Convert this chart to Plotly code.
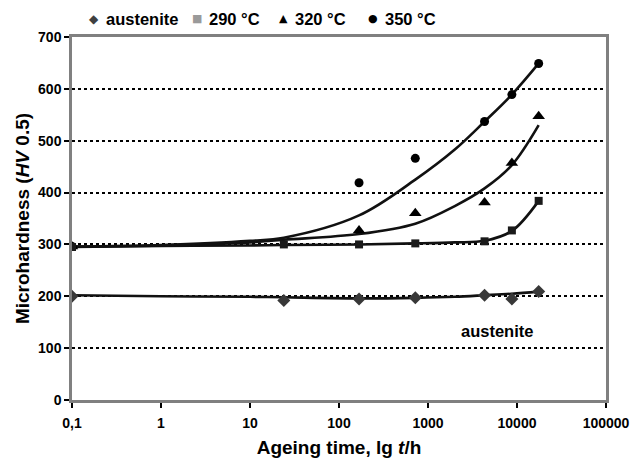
import plotly.graph_objects as go

# Measured microhardness (HV 0.5) against ageing time (h)
time_h = [0.1, 24, 168, 720, 4320, 8760, 17520]
hv_austenite = [200, 192, 195, 197, 202, 195, 209]
hv_290 = [295, 300, 300, 302, 306, 327, 384]

time_320 = [0.1, 168, 720, 4320, 8760, 17520]
hv_320 = [296, 327, 360, 381, 457, 547]

time_350 = [0.1, 168, 720, 4320, 8760, 17520]
hv_350 = [296, 419, 466, 537, 589, 649]

# Smoothed trend curves
time_fit = [0.1, 1, 10, 24, 168, 720, 2000, 4320, 8760, 17520]
fit_austenite = [202, 200, 199, 198, 196, 197, 199, 202, 205, 209]
fit_290 = [295, 297, 298, 299, 300, 302, 304, 307, 326, 384]
fit_320 = [296, 298, 304, 309, 320, 340, 374, 408, 453, 530]
fit_350 = [296, 299, 307, 313, 356, 425, 483, 537, 589, 649]

x_tickvals = [0.1, 1, 10, 100, 1000, 10000, 100000]
x_ticktext = ["0,1", "1", "10", "100", "1000", "10000", "100000"]
y_tickvals = [0, 100, 200, 300, 400, 500, 600, 700]

# Legend row: symbol, symbol colour, label
legend_symbols = ["\u25c6", "\u25a0", "\u25b2", "\u25cf"]
legend_colors = ["#404040", "#9a9a9a", "#000000", "#000000"]
legend_labels = ["austenite", "290 \u00b0C", "320 \u00b0C", "350 \u00b0C"]

FONT = "Liberation Sans, Arial, sans-serif"
LINE = "#111111"

# Plot-area geometry in pixels (used to place the legend row)
W, H = 638, 459
ML, MR, MT, MB = 72, 32, 37, 59
PW, PH = W - ML - MR, H - MT - MB


def px_to_paper_x(px):
    return (px - ML) / PW


def px_to_paper_y(py):
    return (H - MB - py) / PH


fig = go.Figure()

for fy in [fit_austenite, fit_290, fit_320, fit_350]:
    fig.add_trace(go.Scatter(
        x=time_fit, y=fy, mode="lines",
        line=dict(color=LINE, width=2.6, shape="spline", smoothing=1.0),
        showlegend=False, hoverinfo="skip"))

fig.add_trace(go.Scatter(x=time_350, y=hv_350, mode="markers", name="350 \u00b0C",
                         marker=dict(symbol="circle", size=9, color="#000000")))
fig.add_trace(go.Scatter(x=time_320, y=hv_320, mode="markers", name="320 \u00b0C",
                         marker=dict(symbol="triangle-up", size=11, color="#000000")))
fig.add_trace(go.Scatter(x=time_h, y=hv_290, mode="markers", name="290 \u00b0C",
                         marker=dict(symbol="square", size=8, color="#1a1a1a")))
fig.add_trace(go.Scatter(x=time_h, y=hv_austenite, mode="markers", name="austenite",
                         marker=dict(symbol="diamond", size=10, color="#383838")))

sym_px = [94, 197, 283, 373]
txt_px = [104, 207, 293, 383]
sym_sizes = [12, 11, 11, 11]
for sym, col, lab, sx, tx, ss in zip(legend_symbols, legend_colors, legend_labels,
                                     sym_px, txt_px, sym_sizes):
    fig.add_annotation(text=sym, x=px_to_paper_x(sx), y=px_to_paper_y(19),
                       xref="paper", yref="paper", xanchor="center", yanchor="middle",
                       showarrow=False, font=dict(family="DejaVu Sans", size=ss, color=col))
    fig.add_annotation(text=lab, x=px_to_paper_x(tx), y=px_to_paper_y(19.5),
                       xref="paper", yref="paper", xanchor="left", yanchor="middle",
                       showarrow=False,
                       font=dict(family=FONT, size=16.5, color="#000000", weight="bold"))

fig.add_annotation(text="austenite", x=3.77, y=133, xref="x", yref="y",
                   showarrow=False,
                   font=dict(family=FONT, size=16.5, color="#000000", weight="bold"))

fig.update_xaxes(
    type="log", range=[-1, 5], tickvals=x_tickvals, ticktext=x_ticktext,
    showgrid=False, zeroline=False, automargin=False,
    showline=True, linecolor="#808080", linewidth=2.5, mirror=True,
    ticks="outside", ticklen=5, tickwidth=2, tickcolor="#000000",
    ticklabelstandoff=3,
    tickfont=dict(family=FONT, size=14, color="#000000", weight="bold"),
    title=dict(text="Ageing time, lg <i>t</i>/h", standoff=12,
               font=dict(family=FONT, size=19, color="#000000", weight="bold")))

fig.update_yaxes(
    range=[0, 700], tickvals=y_tickvals, ticktext=[str(v) for v in y_tickvals],
    showgrid=True, gridcolor="#000000", gridwidth=2, griddash="dot", zeroline=False,
    automargin=False,
    showline=True, linecolor="#808080", linewidth=2.5, mirror=True,
    ticks="outside", ticklen=5, tickwidth=2, tickcolor="#000000",
    tickfont=dict(family=FONT, size=14, color="#000000", weight="bold"),
    title=dict(text="Microhardness (<i>HV</i> 0.5)", standoff=4,
               font=dict(family=FONT, size=19, color="#000000", weight="bold")))

fig.update_layout(
    width=W, height=H, showlegend=False,
    margin=dict(l=ML, r=MR, t=MT, b=MB),
    plot_bgcolor="#ffffff", paper_bgcolor="#ffffff")

fig.write_html("out.html")
